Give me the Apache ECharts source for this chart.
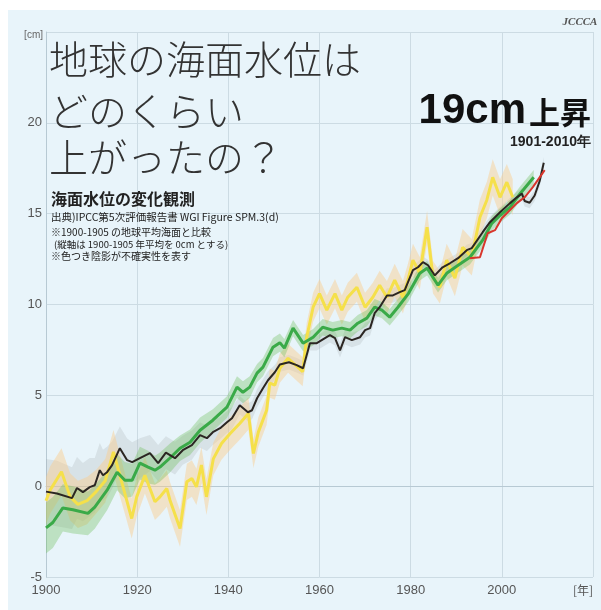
<!DOCTYPE html>
<html>
<head>
<meta charset="utf-8">
<script src="https://cdn.jsdelivr.net/npm/echarts/dist/echarts.min.js"></script>
<style>
html,body{margin:0;padding:0;background:#fff;}
#c{width:601px;height:610px;}
</style>
</head>
<body>
<div id="c"></div>
<script>
// ---- Data ----
var xTicks = [1900, 1920, 1940, 1960, 1980, 2000];
var yTicks = [-5, 0, 5, 10, 15, 20];

var blackYears = [1900,1902.4,1905.7,1906.8,1908.1,1909.6,1910.7,1911.8,1912.5,1913.4,1914.5,1916.2,1917.8,1918.9,1920.6,1922.8,1924.6,1926.3,1928.3,1930,1932,1933.8,1935.3,1936.6,1938.2,1939.7,1940.8,1942.5,1944.3,1945.2,1946.3,1947.6,1948.7,1950.2,1951.3,1953.3,1955,1956.4,1957.9,1959.4,1961.2,1962.3,1963.4,1964.5,1965.6,1967.1,1968.9,1970,1971.1,1972.1,1973.2,1974.8,1976.1,1977.6,1978.7,1980.5,1981.6,1982.7,1983.8,1985.3,1987,1988.6,1990.4,1992.3,1993.4,1995.8,1997.4,1999.6,2001.8,2003.3,2004.4,2005,2006.1,2007.2,2008.3,2009.2];
var blackValues = [-0.3,-0.4,-0.66,-0.1,-0.33,-0.05,0.05,0.88,0.6,0.77,1.16,2.09,1.43,1.32,1.54,1.82,1.27,1.85,1.54,1.98,2.26,2.81,2.64,2.97,3.19,3.52,3.74,4.46,4.07,4.18,4.84,5.39,5.83,6.27,6.7,6.82,6.66,6.49,7.87,7.87,8.15,8.31,8.15,7.48,8.2,8.04,8.2,8.59,8.7,9.52,9.85,10.5,10.5,10.68,10.79,11.89,12.05,12.33,12.16,11.6,12.05,12.27,12.55,12.99,13.1,13.98,14.53,15.08,15.58,15.9,16.1,15.7,15.6,16.0,16.8,17.8];
var blackUncert = [1.8,1.8,1.7,1.7,1.6,1.6,1.5,1.5,1.4,1.4,1.3,
  1.2,1.2,1.1,1.1,1.0,1.0,0.9,0.9,0.8,
  0.8,0.7,0.7,0.7,0.6,0.6,0.6,0.5,0.5,0.5,0.5,0.5,0.5,
  0.4,0.4,0.4,0.4,0.4,0.4,0.4,0.4,0.4,0.4,0.4,0.4,0.4,0.4,0.4,0.4,0.4,0.4,0.4,0.4,0.4,0.4,
  0.3,0.3,0.3,0.3,0.3,0.3,0.3,0.3,0.3,0.3,0.3,0.3,0.3,0.3,0.3,0.3,0.3,0.3,0.3,0.3,0.3];

var greenYears = [1900,1901.5,1903.7,1905.9,1909.2,1910.7,1913.4,1915.6,1917.3,1918.9,1920.6,1922.4,1923.9,1925,1927.2,1929.4,1931.6,1933.8,1936.6,1939.7,1941.9,1943.2,1944.7,1946.3,1947.6,1949.8,1951.3,1952.3,1954.2,1956.4,1958.6,1960.7,1962.9,1964.9,1966.7,1968.4,1970.4,1972.1,1973.7,1975.4,1977.2,1979.5,1982,1983.6,1986,1987.9,1990.4,1993,1995.8,1997.8,1999.6,2001.8,2004,2007];
var greenValues = [-2.3,-2.0,-1.2,-1.3,-1.5,-1.15,-0.22,0.77,0.33,0.33,1.27,1.05,0.88,1.05,1.55,2.09,2.42,3.08,3.63,4.35,5.45,5.17,5.45,6.22,6.55,7.65,7.9,7.6,8.7,7.87,8.2,8.75,8.59,8.7,8.59,8.97,9.25,9.85,9.69,9.3,9.85,10.6,11.72,12.0,11.06,11.72,12.16,12.6,13.54,14.47,14.9,15.36,16.1,17.0];
var greenUncert = [1.4,1.4,1.3,1.3,1.2,1.2,1.1,
  1.0,1.0,0.9,0.9,0.9,0.8,0.8,0.8,0.7,
  0.7,0.7,0.6,0.6,0.6,0.6,0.6,0.5,0.5,0.5,0.5,0.5,
  0.45,0.45,0.45,0.45,0.45,0.45,0.45,0.45,0.45,0.45,0.45,0.45,0.45,0.45,
  0.4,0.4,0.4,0.4,0.4,0.4,0.4,0.4,0.4,0.4,0.4,0.4];

var yellowYears = [1900,1900.9,1903.4,1905.3,1907,1909,1911,1913,1914.8,1917.7,1918.8,1919.9,1921.7,1923.9,1925,1926.5,1927.2,1929.4,1930.9,1932,1933,1934.1,1935.2,1936.7,1938.5,1940.4,1942.5,1944.4,1945.5,1946.6,1948.4,1949.1,1950.2,1951.3,1953.1,1955,1956.3,1957.2,1958.6,1960,1961.6,1963.4,1964.9,1966.2,1968.2,1970,1971.7,1973.2,1974.8,1976.5,1978.3,1979.4,1980.5,1982,1983.6,1984.9,1986.4,1987.9,1989.7,1991.4,1993.4,1995.2,1996.7,1998,1999.6,2001.1,2002.4];
var yellowValues = [-0.8,-0.22,0.79,-0.59,-1.0,-0.8,-0.3,0.3,1.89,-0.77,-1.78,-0.59,0.6,-0.86,-0.59,-0.13,-0.77,-2.33,0.24,0.42,-0.04,1.16,-0.59,1.5,2.35,2.9,3.45,4.0,1.8,2.99,4.18,5.67,5.56,6.49,7.04,6.6,6.3,8.2,9.85,10.6,9.69,10.6,9.69,10.4,10.95,9.85,10.4,11.06,10.4,11.34,10.4,11.34,12.44,11.72,14.25,11.5,10.95,12.44,11.45,13.15,12.6,14.8,15.74,17.0,15.9,16.73,15.9];
var yellowUncert = [1.3,1.3,1.3,1.3,1.3,1.3,1.2,1.2,1.2,1.1,1.1,1.1,1.0,1.0,1.0,1.0,1.0,1.0,1.0,1.0,1.0,1.0,1.0,0.9,0.9,0.9,0.9,0.9,
  0.8,0.8,0.8,0.8,0.8,0.8,0.8,0.8,0.8,0.8,0.8,0.8,0.8,0.8,0.8,0.8,0.8,0.8,0.8,0.8,
  0.9,0.9,0.9,0.9,0.9,0.9,0.9,0.9,0.9,0.9,1.0,1.0,1.0,1.0,1.0,1.0,1.0,1.0,1.0];

var redYears = [1993,1995.2,1996.9,1998.5,2000,2001.3,2003.3,2005,2006.8,2008.3,2009.4];
var redValues = [12.55,12.6,13.92,14.09,14.75,15.08,15.58,15.9,16.46,17.0,17.4];

// ---- helpers ----
function pairs(xs, ys) { return xs.map(function (x, i) { return [x, ys[i]]; }); }

function band(name, xs, ys, es, fill, z) {
  return {
    name: name, type: 'custom', coordinateSystem: 'cartesian2d', silent: true, z: z,
    data: [[xs[0], ys[0]]], encode: { x: 0, y: 1 },
    renderItem: function (params, api) {
      var pts = [], i;
      for (i = 0; i < xs.length; i++) pts.push(api.coord([xs[i], ys[i] + es[i]]));
      for (i = xs.length - 1; i >= 0; i--) pts.push(api.coord([xs[i], ys[i] - es[i]]));
      return { type: 'polygon', shape: { points: pts }, style: { fill: fill } };
    }
  };
}
function line(name, xs, ys, color, w, z) {
  return {
    name: name, type: 'line', data: pairs(xs, ys), symbol: 'none', showSymbol: false,
    lineStyle: { color: color, width: w }, itemStyle: { color: color }, z: z
  };
}

var JP = '"Noto Sans CJK JP", sans-serif';
var LAT = '"Liberation Sans", Arial, sans-serif';

function txt(x, y, s, size, opts) {
  opts = opts || {};
  return {
    type: 'text', x: x, y: y, silent: true, z: 100,
    style: {
      text: s, fontSize: size, fontFamily: opts.font || JP, fontWeight: opts.weight || 'normal',
      fontStyle: opts.style || 'normal',
      fill: opts.color || '#2a2a2a', textAlign: opts.align || 'left', textVerticalAlign: 'middle'
    }
  };
}

var chart = echarts.init(document.getElementById('c'));
chart.setOption({
  animation: false,
  backgroundColor: '#e8f4fa',
  grid: { left: 46, right: 8, top: 32, bottom: 33 },
  xAxis: {
    type: 'value', min: 1900, max: 2020, interval: 20,
    axisLine: { show: true, lineStyle: { color: '#b7c9d3', width: 1 } },
    axisTick: { show: false },
    splitLine: { show: true, lineStyle: { color: '#ccdbe3', width: 1 } },
    axisLabel: {
      color: '#555', fontSize: 13, fontFamily: LAT, margin: 7,
      formatter: function (v) { return xTicks.indexOf(v) >= 0 ? String(v) : ''; }
    }
  },
  yAxis: {
    type: 'value', min: -5, max: 25, interval: 5,
    axisLine: { show: true, lineStyle: { color: '#b7c9d3', width: 1 } },
    axisTick: { show: false },
    splitLine: { show: true, lineStyle: { color: '#ccdbe3', width: 1 } },
    axisLabel: {
      color: '#555', fontSize: 13, fontFamily: LAT, margin: 4,
      formatter: function (v) { return yTicks.indexOf(v) >= 0 ? String(v) : ''; }
    }
  },
  graphic: [
    { type: 'rect', shape: { x: 0, y: 0, width: 601, height: 10 }, style: { fill: '#fff' }, z: 90, silent: true },
    { type: 'rect', shape: { x: 0, y: 0, width: 8, height: 610 }, style: { fill: '#fff' }, z: 90, silent: true },
    txt(43, 35, '[cm]', 10, { font: LAT, color: '#666', align: 'right' }),
    txt(583, 590, '[年]', 12, { color: '#555', align: 'center' }),
    txt(580, 22, 'JCCCA', 11, { font: '"Liberation Serif", serif', weight: 'bold', style: 'italic', color: '#555', align: 'center' }),
    txt(49, 59, '地球の海面水位は', 39, { weight: 300, color: '#333' }),
    txt(49, 111, 'どのくらい', 39, { weight: 300, color: '#333' }),
    txt(49, 157, '上がったの？', 39, { weight: 300, color: '#333' }),
    txt(526, 111, '19cm', 42, { font: LAT, weight: 'bold', color: '#111', align: 'right' }),
    txt(591, 112, '上昇', 31, { weight: 'bold', color: '#111', align: 'right' }),
    txt(591, 142, '1901-2010年', 14, { font: LAT, weight: 'bold', color: '#222', align: 'right' }),
    txt(51, 199, '海面水位の変化観測', 16, { weight: 'bold', color: '#222' }),
    txt(51, 217, '出典)IPCC第5次評価報告書 WGI Figure SPM.3(d)', 10.5, { color: '#222' }),
    txt(51, 232, '※1900-1905 の地球平均海面と比較', 10, { color: '#222' }),
    txt(54, 244, '(縦軸は 1900-1905 年平均を 0cm とする)', 9.5, { color: '#222' }),
    txt(51, 256, '※色つき陰影が不確実性を表す', 10, { color: '#222' })
  ],
  series: [
    band('grey band', blackYears, blackValues, blackUncert, 'rgba(165,170,175,0.25)', 1),
    band('yellow band', yellowYears, yellowValues, yellowUncert, 'rgba(250,205,140,0.45)', 1),
    band('green band', greenYears, greenValues, greenUncert, 'rgba(110,190,90,0.35)', 1),
    line('yellow', yellowYears, yellowValues, '#f5e04a', 3, 3),
    line('green', greenYears, greenValues, '#3aaa48', 3, 4),
    line('black', blackYears, blackValues, '#2b2622', 2, 5),
    line('red', redYears, redValues, '#d8362c', 2, 6)
  ]
});
</script>
</body>
</html>
